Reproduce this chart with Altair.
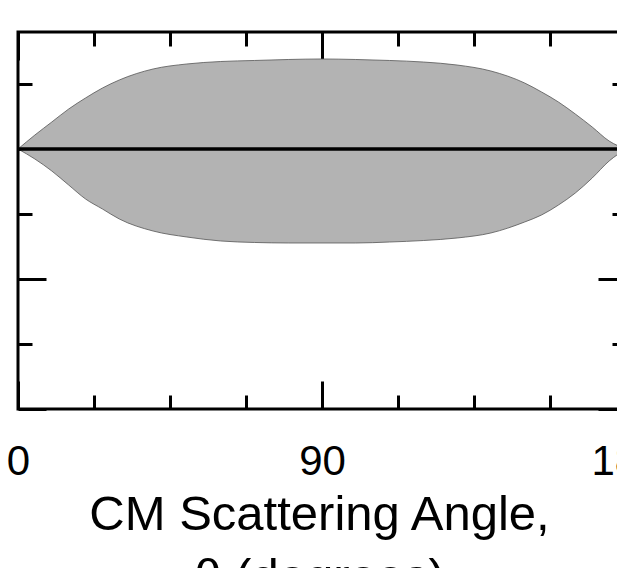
import altair as alt
import pandas as pd

# CM scattering angle (degrees)
angles = [0, 5, 10, 15, 20, 25, 30, 40, 50, 60, 70, 80, 90, 100, 110,
          120, 130, 140, 150, 155, 160, 165, 170, 175, 180]
# upper edge of the band
upper = [0, 0.215, 0.415, 0.615, 0.785, 0.938, 1.062, 1.231, 1.308, 1.346,
         1.362, 1.377, 1.385, 1.377, 1.362, 1.338, 1.292, 1.200, 1.015, 0.877,
         0.723, 0.538, 0.338, 0.123, 0]
# lower edge of the band
lower = [0, -0.154, -0.338, -0.554, -0.769, -0.923, -1.077, -1.262, -1.354,
         -1.415, -1.438, -1.446, -1.446, -1.446, -1.431, -1.408, -1.369,
         -1.292, -1.123, -1.015, -0.862, -0.677, -0.446, -0.185, 0]

x_major = [0, 90, 180]
x_minor = [22.5, 45, 67.5, 112.5, 135, 157.5]
y_major = [-4, -2, 0]
y_minor = [-3, -1, 1]
x_domain = [0, 180]
y_domain = [-4, 1.8]

df = pd.DataFrame({"angle": angles, "upper": upper, "lower": lower})

FONT = "Liberation Sans"
xs = alt.Scale(domain=x_domain, nice=False, zero=False)
ys = alt.Scale(domain=y_domain, nice=False, zero=False)


def xaxis(orient, values, size, labels=False, title=""):
    kw = dict(orient=orient, values=values, tickSize=size, offset=-size,
              domain=False, grid=False, labels=labels, title=title,
              tickColor="black", tickWidth=3)
    if labels:
        kw.update(labelFontSize=42, labelFont=FONT, labelColor="black",
                  labelFlush=False, labelOverlap=False, labelPadding=65,
                  labelBaseline="alphabetic")
    if title:
        kw.update(titleFontSize=49, titleFont=FONT, titleColor="black",
                  titleFontWeight="normal", titleBaseline="alphabetic",
                  titleY=148, titleX=301, titleAlign="center",
                  titleLineHeight=63)
    return alt.Axis(**kw)


def yaxis(orient, values, size):
    return alt.Axis(orient=orient, values=values, tickSize=size, offset=-size,
                    domain=False, grid=False, labels=False, title="",
                    tickColor="black", tickWidth=3)


base = alt.Chart(df)

band = base.mark_area(color="#b3b3b3", opacity=1, interpolate="monotone").encode(
    x=alt.X("angle:Q", scale=xs,
            axis=xaxis("bottom", x_major, 28, labels=True,
                       title=["CM Scattering Angle,", "θ (degrees)"])),
    y=alt.Y("upper:Q", scale=ys, axis=yaxis("left", y_major, 28)),
    y2="lower:Q",
)

up_line = base.mark_line(color="#555555", strokeWidth=0.8, interpolate="monotone").encode(
    x=alt.X("angle:Q", scale=xs, axis=xaxis("bottom", x_minor, 14)),
    y=alt.Y("upper:Q", scale=ys, axis=yaxis("left", y_minor, 14)),
)

low_line = base.mark_line(color="#555555", strokeWidth=0.8, interpolate="monotone").encode(
    x=alt.X("angle:Q", scale=xs, axis=xaxis("top", x_major, 28)),
    y=alt.Y("lower:Q", scale=ys, axis=yaxis("right", y_major, 28)),
)

center = base.transform_calculate(zero="0").mark_line(
    color="black", strokeWidth=3.5).encode(
    x=alt.X("angle:Q", scale=xs, axis=xaxis("top", x_minor, 14)),
    y=alt.Y("zero:Q", scale=ys, axis=yaxis("right", y_minor, 14)),
)

chart = alt.layer(band, up_line, low_line, center).resolve_axis(
    x="independent", y="independent"
).properties(
    width=608,
    height=377,
    autosize=alt.AutoSizeParams(type="none"),
    padding={"left": 18, "top": 32, "right": -9, "bottom": 159},
    background="white",
).configure_view(stroke="black", strokeWidth=3)

chart.save("out.html", embed_options={"renderer": "svg", "actions": False})
